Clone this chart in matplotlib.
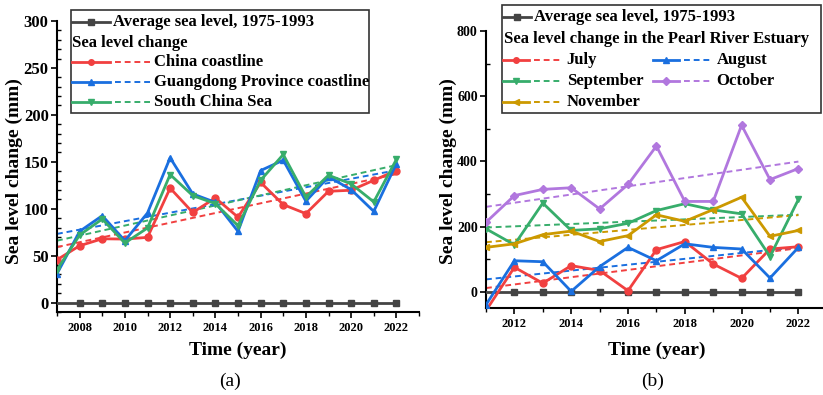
import numpy as np
import matplotlib
matplotlib.use('Agg')
import matplotlib.pyplot as plt
from matplotlib.lines import Line2D
from matplotlib.patches import Rectangle
from matplotlib.ticker import MultipleLocator

plt.rcParams['font.family'] = ['Liberation Serif', 'DejaVu Serif']
plt.rcParams['font.weight'] = 'bold'

W, H = 823, 395

# ---- panel (a) data ----
years_a = np.arange(2007, 2023)
base_a = np.zeros(len(years_a))
china = [45.6, 60.6, 68, 67.7, 69.5, 122, 96, 111.5, 91, 128, 104.4, 94.8, 118.6, 119.7, 130.3, 140.7]
guangdong = [30.7, 75.9, 92.6, 66, 95.5, 154.3, 115.8, 106.8, 75.9, 140.7, 151.7, 108, 134, 120.4, 97.2, 148]
scs = [35, 72, 89, 63.5, 79.5, 136.4, 114, 105.4, 82, 130.3, 157.8, 112.6, 135.7, 126.5, 107.3, 152.5]

# ---- panel (b) data ----
years_b = np.arange(2011, 2023)
base_b = np.zeros(len(years_b))
july = [-58, 75, 26, 80, 65, 3, 129, 154, 85, 41, 131, 138]
august = [-40, 95, 92, 1, 77, 136, 95, 147, 136, 131, 42, 136]
september = [193, 144, 272, 188, 193, 210, 249, 270, 251, 239, 108, 283]
october = [213, 295, 314, 319, 254, 329, 447, 277, 277, 511, 344, 378]
november = [136, 147, 175, 186, 154, 172, 236, 216, 252, 290, 170, 188]

RED, BLUE, GREEN, PURPLE, GOLD, GRAY = '#F14040', '#1A6FDF', '#37AD6B', '#B177DE', '#CC9900', '#444444'

fig = plt.figure(figsize=(W / 100, H / 100), dpi=100)


def fx(px):
    return px / W


def fy(py):
    return 1 - py / H


def style_axes(ax, xmaj, ymaj, ymin, ysize):
    for s in ['top', 'right']:
        ax.spines[s].set_visible(False)
    for s in ['left', 'bottom']:
        ax.spines[s].set_linewidth(1.5)
    ax.xaxis.set_major_locator(MultipleLocator(xmaj))
    ax.xaxis.set_minor_locator(MultipleLocator(1))
    ax.yaxis.set_major_locator(MultipleLocator(ymaj))
    ax.yaxis.set_minor_locator(MultipleLocator(ymin))
    ax.tick_params(axis='x', which='major', direction='out', length=4, width=1.2, labelsize=9, pad=3)
    ax.tick_params(axis='x', which='minor', direction='out', length=3, width=1)
    ax.tick_params(axis='y', which='major', direction='out', length=4, width=1.2, labelsize=ysize, pad=2)
    ax.tick_params(axis='y', which='minor', direction='in', length=3, width=1)
    for lab in ax.get_xticklabels() + ax.get_yticklabels():
        lab.set_fontweight('bold')


def draw_series(ax, x, y, color, marker, ms=5):
    ax.plot(x, y, color=color, lw=2, marker=marker, ms=ms, clip_on=True, zorder=3)
    k, b = np.polyfit(x, y, 1)
    ax.plot(x, k * np.asarray(x) + b, color=color, lw=1.4, ls=(0, (3, 2)), zorder=2)


# ---------------- panel (a) ----------------
ax1 = fig.add_axes([fx(57), fy(312), fx(419 - 57), (312 - 21) / H])
ax1.plot(years_a, base_a, color=GRAY, lw=2, marker='s', ms=5, markevery=range(1, len(years_a)), zorder=3)
draw_series(ax1, years_a, china, RED, 'o')
draw_series(ax1, years_a, guangdong, BLUE, '^')
draw_series(ax1, years_a, scs, GREEN, 'v')
ax1.set_xlim(2007, 2023)
ax1.set_ylim(-10, 300)
style_axes(ax1, 2, 50, 10, 12)

# ---------------- panel (b) ----------------
ax2 = fig.add_axes([fx(486), fy(308), fx(823 - 486), (308 - 31) / H])
ax2.plot(years_b, base_b, color=GRAY, lw=2, marker='s', ms=5, markevery=range(1, len(years_b)), zorder=3)
draw_series(ax2, years_b, july, RED, 'o')
draw_series(ax2, years_b, august, BLUE, '^')
draw_series(ax2, years_b, september, GREEN, 'v')
draw_series(ax2, years_b, october, PURPLE, 'D', ms=4.5)
draw_series(ax2, years_b, november, GOLD, '<')
ax2.set_xlim(2011, 2011 + (823 - 486) / 28.4)
ax2.set_ylim(-50, 800)
style_axes(ax2, 2, 200, 100, 10)

# ---------------- labels ----------------
fig.text(fx(14), fy(171), 'Sea level change (mm)', rotation=90, ha='center', va='center', fontsize=14, fontweight='bold')
fig.text(fx(448), fy(171), 'Sea level change (mm)', rotation=90, ha='center', va='center', fontsize=14, fontweight='bold')
fig.text(fx(238), fy(350), 'Time (year)', ha='center', va='center', fontsize=14, fontweight='bold')
fig.text(fx(657), fy(350), 'Time (year)', ha='center', va='center', fontsize=14, fontweight='bold')
fig.text(fx(230), fy(381), '(a)', ha='center', va='center', fontsize=14, fontweight='normal')
fig.text(fx(653), fy(381), '(b)', ha='center', va='center', fontsize=14, fontweight='normal')


# ---------------- legends (drawn in figure pixels) ----------------
def seg(x0, x1, y, color, ls='-', marker=None):
    fig.add_artist(Line2D([fx(x0), fx(x1)], [fy(y), fy(y)], color=color, lw=2 if ls == '-' else 1.4,
                          ls=ls if ls == '-' else (0, (3, 2)), transform=fig.transFigure, zorder=5))
    if marker:
        fig.add_artist(Line2D([fx((x0 + x1) / 2)], [fy(y)], color=color, marker=marker, ms=4,
                              ls='none', transform=fig.transFigure, zorder=6))


def label(x, y, s):
    fig.text(fx(x), fy(y), s, ha='left', va='center', fontsize=12, fontweight='bold', zorder=6)


def box(x0, y0, x1, y1):
    fig.add_artist(Rectangle((fx(x0), fy(y1)), fx(x1 - x0), (y1 - y0) / H, transform=fig.transFigure,
                             facecolor='white', edgecolor='#333333', lw=1.2, zorder=4))


# legend (a)
box(71, 10, 369, 113)
seg(72, 110, 21.7, GRAY, marker='s')
label(113, 21.7, 'Average sea level, 1975-1993')
label(72.5, 42.7, 'Sea level change')
for yy, c, m, name in [(62.3, RED, 'o', 'China coastline'),
                       (82.3, BLUE, '^', 'Guangdong Province coastline'),
                       (102.3, GREEN, 'v', 'South China Sea')]:
    seg(72, 110, yy, c, marker=m)
    seg(115, 150, yy, c, ls='--')
    label(154, yy, name)

# legend (b)
box(502, 5, 821, 112.7)
seg(503, 530.7, 16.7, GRAY, marker='s')
label(534, 16.7, 'Average sea level, 1975-1993')
label(504, 39.3, 'Sea level change in the Pearl River Estuary')
for col, yy, c, m, name in [(0, 60, RED, 'o', 'July'), (1, 60, BLUE, '^', 'August'),
                            (0, 81, GREEN, 'v', 'September'), (1, 81, PURPLE, 'D', 'October'),
                            (0, 102.3, GOLD, '<', 'November')]:
    dx = 0 if col == 0 else 150
    seg(503 + dx, 529 + dx, yy, c, marker=m)
    seg(534 + dx, 561.7 + dx, yy, c, ls='--')
    label(566.7 + dx, yy, name)

fig.savefig('out.png', dpi=100)
